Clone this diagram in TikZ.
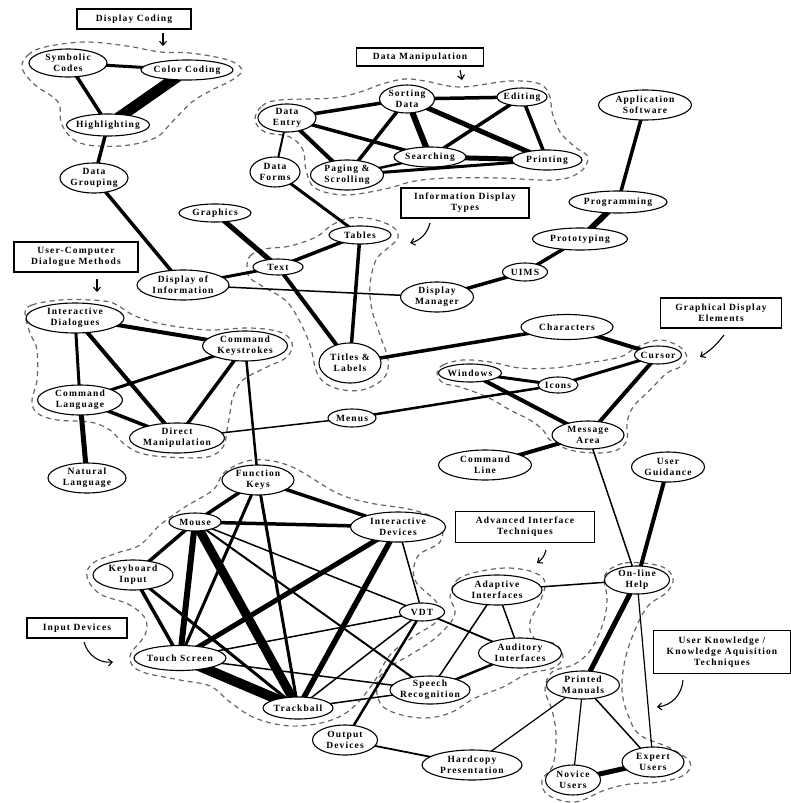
\documentclass[tikz,border=0pt]{standalone}
\usepackage{fontspec}
\setmainfont{Liberation Serif}[LetterSpace=12]
\usetikzlibrary{arrows.meta,shapes.geometric,backgrounds}

\tikzset{
  elt/.style 2 args={ellipse, draw, line width=1.1pt, fill=white, inner sep=-30pt,
    minimum width=#1, minimum height=#2, align=center},
  lbox/.style 2 args={rectangle, draw, line width=1.1pt, fill=white, inner sep=0pt,
    minimum width=#1, minimum height=#2, align=center},
  clus/.style={dash pattern=on 5pt off 4pt, line width=1.2pt, black!60},
  ptr/.style={-{Straight Barb[length=4pt,width=7pt]}, line width=1.1pt},
}

\begin{document}
\begin{tikzpicture}[x=1pt, y=-1pt, font=\fontsize{9.5}{11}\selectfont\bfseries]
    \useasboundingbox (0,0) rectangle (791,803);

    % 标签框
    \node[lbox={114}{20}] (dcbox) at (134,19) {Display Coding};
    \node[lbox={127}{18}] (dmbox) at (420,57) {Data Manipulation};
    \node[lbox={128}{30}] (infbox) at (465,203) {Information Display\\Types};
    \node[lbox={124}{30}] (ucdbox) at (76,257) {User-Computer\\Dialogue Methods};
    \node[lbox={121}{30}] (gdebox) at (721,313) {Graphical Display\\Elements};
    \node[lbox={139}{31}] (aitbox) at (525,527) {Advanced Interface\\Techniques};
    \node[lbox={100}{20}] (inbox) at (77,628) {Input Devices};
    \node[lbox={137}{43}] (ukbox) at (722,652) {User Knowledge /\\Knowledge Aquisition\\Techniques};

    % 显示编码
    \node[elt={78}{28}] (sym) at (68,63) {Symbolic\\Codes};
    \node[elt={92}{20}] (col) at (187,70) {Color Coding};
    \node[elt={83}{22}] (hil) at (108,125) {Highlighting};
    \node[elt={68}{30}] (grp) at (94,178) {Data\\Grouping};
    \node[elt={72}{18}] (gra) at (215,213) {Graphics};

    % 数据操作
    \node[elt={55}{28}] (sort) at (407,99) {Sorting\\Data};
    \node[elt={50}{18}] (edit) at (522,97) {Editing};
    \node[elt={58}{28}] (entry) at (287,118) {Data\\Entry};
    \node[elt={72}{20}] (srch) at (430,157) {Searching};
    \node[elt={73}{30}] (page) at (347,175) {Paging \&\\Scrolling};
    \node[elt={50}{30}] (form) at (275,172) {Data\\Forms};
    \node[elt={70}{20}] (prn) at (547,160) {Printing};

    % 信息显示
    \node[elt={62}{18}] (tab) at (360,235) {Tables};
    \node[elt={50}{16}] (txt) at (278,267) {Text};
    \node[elt={92}{30}] (doi) at (183,285) {Display of\\Information};
    \node[elt={73}{30}] (dmgr) at (437,297) {Display\\Manager};
    \node[elt={62}{40}] (ttl) at (350,363) {Titles \&\\Labels};
    \node[elt={93}{30}] (app) at (645,105) {Application\\Software};
    \node[elt={98}{22}] (prog) at (618,202) {Programming};
    \node[elt={95}{22}] (proto) at (580,239) {Prototyping};
    \node[elt={45}{18}] (uims) at (525,272) {UIMS};

    % 图形显示元素
    \node[elt={92}{25}] (chr) at (567,327) {Characters};
    \node[elt={47}{18}] (cur) at (658,355) {Cursor};
    \node[elt={63}{18}] (win) at (470,373) {Windows};
    \node[elt={40}{16}] (ico) at (558,385) {Icons};
    \node[elt={72}{28}] (msg) at (588,435) {Message\\Area};
    \node[elt={93}{30}] (cmdl) at (485,465) {Command\\Line};
    \node[elt={73}{30}] (ug) at (668,467) {User\\Guidance};
    \node[elt={48}{18}] (menu) at (352,418) {Menus};

    % 对话方式
    \node[elt={98}{30}] (idl) at (75,318) {Interactive\\Dialogues};
    \node[elt={85}{30}] (cks) at (245,346) {Command\\Keystrokes};
    \node[elt={85}{30}] (clg) at (80,400) {Command\\Language};
    \node[elt={95}{30}] (dman) at (177,438) {Direct\\Manipulation};
    \node[elt={78}{30}] (nat) at (87,478) {Natural\\Language};

    % 输入设备
    \node[elt={72}{30}] (fk) at (258,480) {Function\\Keys};
    \node[elt={52}{18}] (mou) at (195,522) {Mouse};
    \node[elt={95}{30}] (idv) at (398,527) {Interactive\\Devices};
    \node[elt={80}{30}] (kbd) at (133,575) {Keyboard\\Input};
    \node[elt={92}{25}] (ts) at (180,658) {Touch Screen};
    \node[elt={45}{18}] (vdt) at (422,612) {VDT};
    \node[elt={70}{22}] (trk) at (298,708) {Trackball};
    \node[elt={80}{28}] (spr) at (430,690) {Speech\\Recognition};
    \node[elt={65}{30}] (outd) at (345,740) {Output\\Devices};
    \node[elt={100}{30}] (hard) at (472,765) {Hardcopy\\Presentation};

    % 高级界面与用户知识
    \node[elt={90}{30}] (adap) at (497,590) {Adaptive\\Interfaces};
    \node[elt={83}{30}] (aud) at (520,653) {Auditory\\Interfaces};
    \node[elt={65}{28}] (help) at (637,580) {On-line\\Help};
    \node[elt={73}{28}] (prt) at (583,685) {Printed\\Manuals};
    \node[elt={62}{30}] (exp) at (653,762) {Expert\\Users};
    \node[elt={55}{30}] (nov) at (573,780) {Novice\\Users};

    \begin{scope}[on background layer]
    % 虚线分组
    \draw[clus] plot[smooth cycle, tension=0.6] coordinates {(22,68) (28,55) (45,47) (85,42) (127,46)
        (160,52) (190,53) (228,60) (242,70) (232,80) (212,90) (192,102) (172,122) (155,138)
        (120,146) (80,143) (62,125) (58,102) (35,85)};
    \draw[clus] plot[smooth cycle, tension=0.6] coordinates {(255,120) (262,106) (280,100) (333,98)
        (360,92) (382,84) (405,79) (425,81) (460,87) (510,81) (540,84) (550,97) (552,112)
        (560,132) (575,147) (588,157) (580,172) (555,180) (500,178) (450,178) (415,181)
        (385,189) (345,195) (315,188) (306,170) (303,150) (290,137) (265,132)};
    \draw[clus] plot[smooth cycle, tension=0.6] coordinates {(247,268) (250,256) (265,249) (290,246)
        (316,237) (332,225) (350,218) (372,219) (393,227) (398,238) (388,248) (376,260)
        (370,285) (372,310) (380,335) (388,360) (384,378) (362,390) (335,388) (318,375)
        (310,345) (298,318) (285,300) (262,286) (250,278)};
    \draw[clus] plot[smooth cycle, tension=0.6] coordinates {(437,373) (443,365) (463,360) (490,362)
        (520,368) (553,368) (587,363) (620,357) (637,347) (660,340) (680,347) (687,358)
        (680,367) (667,373) (650,390) (633,407) (627,423) (627,440) (617,450) (597,453)
        (570,450) (550,440) (543,430) (530,420) (510,410) (487,397) (460,387) (443,383)};
    \draw[clus] plot[smooth cycle, tension=0.6] coordinates {(25,313) (32,305) (60,300) (90,300)
        (113,303) (133,315) (157,323) (187,328) (213,330) (250,328) (280,332) (292,343)
        (287,357) (267,367) (243,380) (233,397) (230,413) (227,430) (223,447) (207,457)
        (167,457) (140,453) (123,443) (110,430) (90,422) (57,420) (37,413) (32,400)
        (37,380) (37,350) (30,333)};
    \draw[clus] plot[smooth cycle, tension=0.6] coordinates {(87,577) (93,563) (117,553) (140,545)
        (160,525) (185,507) (213,490) (225,472) (253,460) (290,466) (337,493) (370,503)
        (413,510) (440,522) (440,542) (418,556) (415,580) (437,603) (438,620) (413,637)
        (390,655) (372,685) (350,710) (325,722) (290,726) (255,718) (230,702) (210,686)
        (180,680) (140,671) (130,656) (145,635) (145,618) (128,604) (100,594)};
    \draw[clus] plot[smooth cycle, tension=0.6] coordinates {(450,597) (457,580) (477,572) (507,568)
        (533,572) (545,582) (540,602) (530,622) (534,638) (555,644) (563,657) (553,668)
        (527,674) (503,687) (475,698) (450,713) (423,718) (395,713) (380,703) (377,683)
        (388,668) (410,655) (433,640) (451,622) (455,610)};
    \draw[clus] plot[smooth cycle, tension=0.6] coordinates {(605,575) (625,563) (660,566) (673,578)
        (667,592) (648,606) (635,630) (625,660) (622,690) (628,715) (640,735) (670,748)
        (690,762) (684,775) (660,782) (630,784) (605,790) (575,802) (548,795) (542,780)
        (553,765) (556,735) (552,710) (545,690) (552,672) (575,664) (592,648) (604,620)
        (607,598)};

    % 连线 (起点/终点/线宽)
    \foreach \a/\b/\w in {sym/col/3, sym/hil/3.5, col/hil/11, hil/grp/3.5, grp/doi/3.5,
        gra/txt/5, txt/doi/3, txt/tab/3.5, txt/ttl/4, tab/ttl/3.5, tab/form/3, doi/dmgr/1.5,
        dmgr/uims/3.5, uims/proto/3.5, proto/prog/6, prog/app/3.5, ttl/chr/3.5,
        entry/sort/3.5, entry/form/2, entry/page/4, entry/srch/3.5, sort/edit/3.5,
        sort/page/3.5, sort/srch/6, sort/prn/5, edit/srch/3.5, edit/prn/3.5, srch/prn/5,
        srch/page/2.5, page/prn/3,
        chr/cur/4, cur/ico/3, cur/msg/4, win/ico/3, win/msg/4, ico/menu/2.5, menu/dman/1.5,
        msg/cmdl/4, msg/help/1.5, ug/help/4,
        idl/cks/4, idl/clg/3, idl/dman/4, cks/clg/3, cks/dman/3.5, clg/dman/3.5, clg/nat/5,
        cks/fk/2.5,
        fk/mou/3.5, fk/idv/3.5, fk/ts/3, fk/trk/3, mou/kbd/3.5, mou/ts/6, mou/trk/9,
        mou/idv/3.5, mou/vdt/1.5, mou/spr/2, kbd/ts/3.5, kbd/trk/3, ts/trk/10, ts/idv/5,
        ts/vdt/1.5, ts/spr/1.5, trk/idv/5.5, trk/vdt/1.5, trk/spr/1.5, idv/vdt/1.5,
        vdt/outd/2.5, vdt/aud/1.8, spr/adap/1.5, spr/aud/2.5, adap/aud/1.5, adap/help/1.5,
        outd/hard/1.8, hard/prt/1.2, help/prt/5, help/exp/1.2, prt/nov/1.2, prt/exp/1.5,
        nov/exp/5} {
        \draw[line width=\w pt] (\a.center) -- (\b.center);
    }
    \end{scope}

    % 指示箭头
    \coordinate (dcA) at (163,33);   \coordinate (dcB) at (163,46);
    \coordinate (dmA) at (460,70);   \coordinate (dmB) at (462,80);
    \coordinate (infA) at (430,223); \coordinate (infB) at (410,243);
    \coordinate (ucdA) at (97,279);  \coordinate (ucdB) at (97,292);
    \coordinate (gdeA) at (724,335); \coordinate (gdeB) at (700,357);
    \coordinate (aitA) at (546,550); \coordinate (aitB) at (537,563);
    \coordinate (inA) at (84,642);   \coordinate (inB) at (113,662);
    \coordinate (ukA) at (683,680);  \coordinate (ukB) at (657,707);
    \draw[ptr] (dcA) -- (dcB);
    \draw[ptr] (dmA) -- (dmB);
    \draw[ptr] (infA) to[bend left=30] (infB);
    \draw[ptr] (ucdA) -- (ucdB);
    \draw[ptr] (gdeA) to[bend left=10] (gdeB);
    \draw[ptr] (aitA) to[bend left=20] (aitB);
    \draw[ptr] (inA) to[bend right=40] (inB);
    \draw[ptr] (ukA) to[bend left=40] (ukB);
\end{tikzpicture}
\end{document}
